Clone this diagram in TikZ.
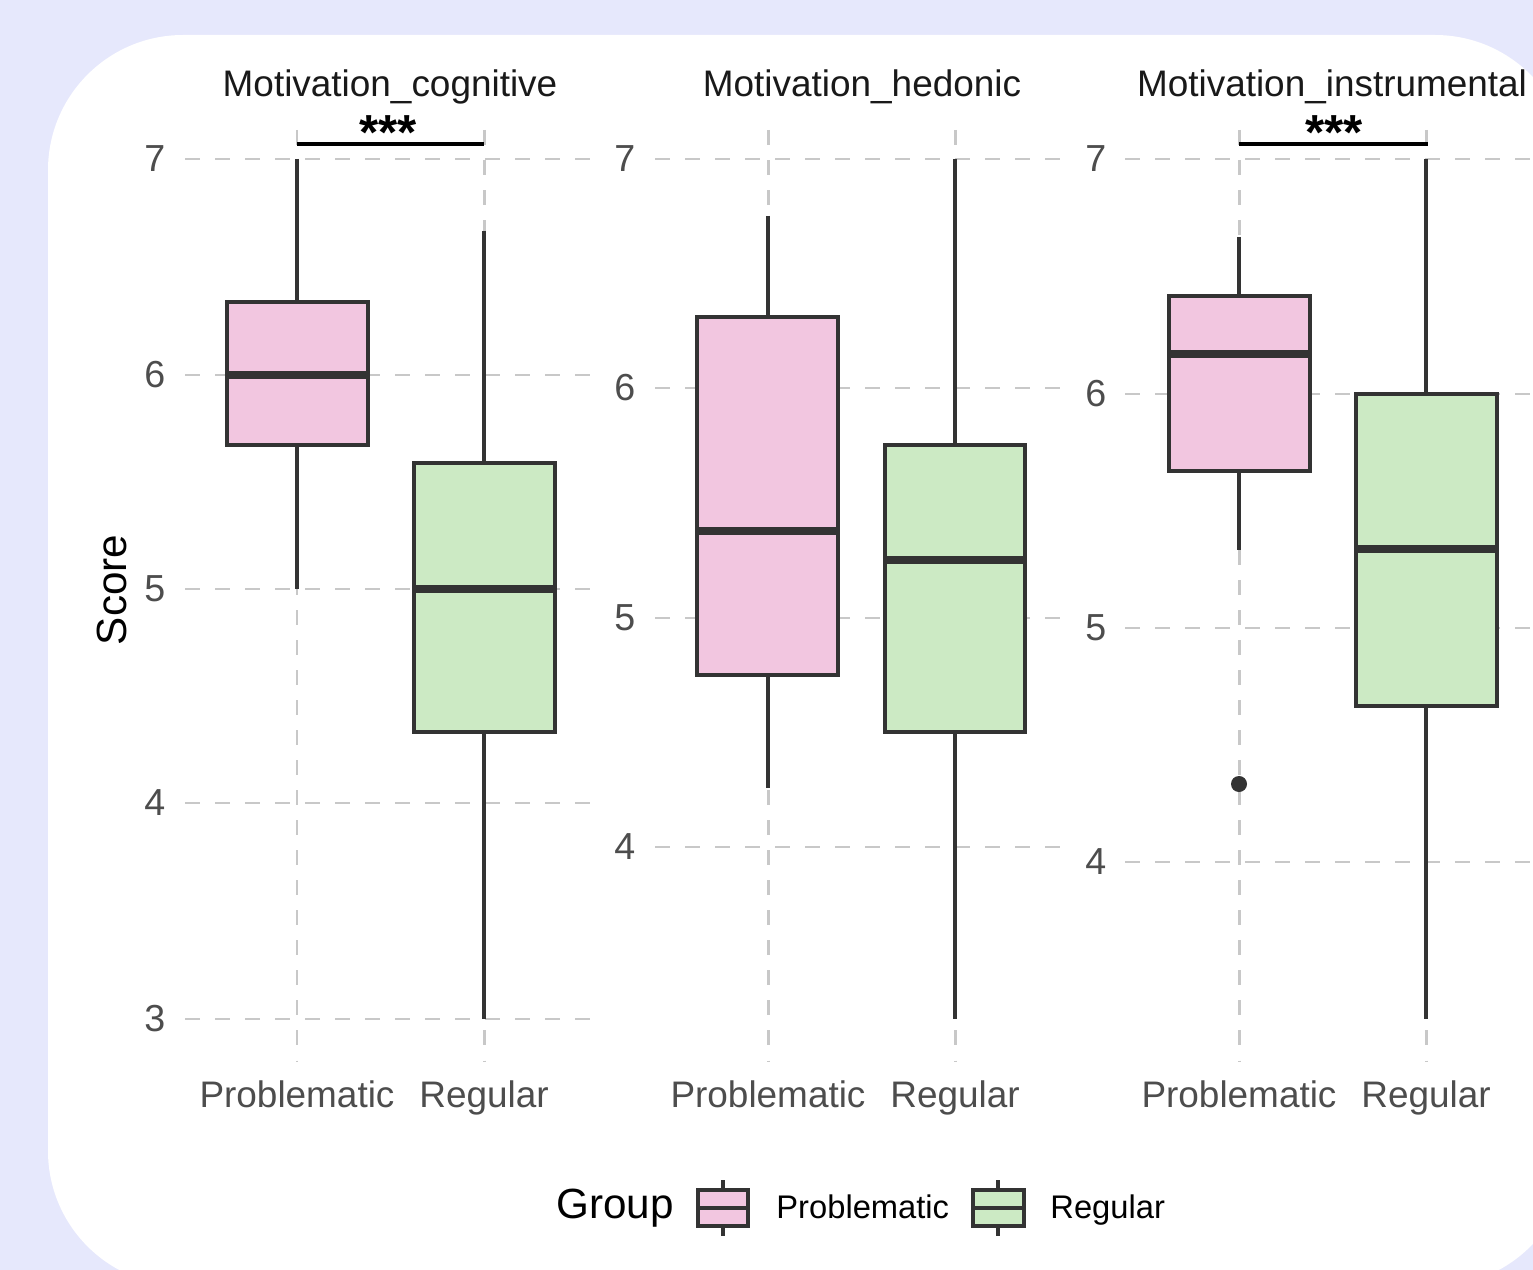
\documentclass[tikz,border=0pt]{standalone}
\usepackage{fontspec}
\setmainfont{Liberation Sans}
\usetikzlibrary{positioning}
\definecolor{bgcol}{HTML}{E6E8FC}
\definecolor{gridgray}{HTML}{C8C8C8}
\definecolor{boxgray}{HTML}{333333}
\definecolor{tickgray}{HTML}{4D4D4D}
\definecolor{pinkfill}{HTML}{F2C6E0}
\definecolor{greenfill}{HTML}{CCEAC4}

\begin{document}
\begin{tikzpicture}[x=0.01cm, y=-0.01cm]
		\tikzset{grd/.style={draw=gridgray, line width=0.85pt, dash pattern=on 0.15cm off 0.15cm}};
		\tikzset{bx/.style={draw=boxgray, line width=0.9pt}};
		\tikzset{med/.style={draw=boxgray, line width=2pt}};
		\tikzset{ttl/.style={text=black!90, font=\fontsize{10.5}{12}\selectfont, anchor=base}};
		\tikzset{tck/.style={text=tickgray, font=\fontsize{10.7}{12}\selectfont, anchor=east, inner sep=0pt}};
		\tikzset{xlab/.style={text=tickgray, font=\fontsize{10.5}{12}\selectfont, anchor=base}};
		\tikzset{star/.style={text=black, font=\bfseries\fontsize{14}{16}\selectfont}};

		\useasboundingbox (0,0) rectangle (1533,1270);
		\fill[bgcol] (0,0) rectangle (1533,1270);
		\fill[white, rounded corners=1.35cm] (48,35) rectangle (1570,1286);

		\foreach \y in {159,375,589,803,1019} \draw[grd] (185,\y) -- (598,\y);
		\foreach \y in {159,388,618,847} \draw[grd] (655,\y) -- (1068,\y);
		\foreach \y in {159,394,628,862} \draw[grd] (1125,\y) -- (1540,\y);
		\foreach \x in {297,484,768,955,1239,1426} \draw[grd] (\x,130) -- (\x,1062);

		\node[ttl] (t1) at (390,97) {Motivation\_cognitive};
		\node[ttl] (t2) at (862,97) {Motivation\_hedonic};
		\node[ttl] (t3) at (1332,97) {Motivation\_instrumental};

		\node[tck] (y17) at (166,159) {7};
		\node[tck] (y16) at (166,375) {6};
		\node[tck] (y15) at (166,589) {5};
		\node[tck] (y14) at (166,803) {4};
		\node[tck] (y13) at (166,1019) {3};
		\node[tck] (y27) at (636,159) {7};
		\node[tck] (y26) at (636,388) {6};
		\node[tck] (y25) at (636,618) {5};
		\node[tck] (y24) at (636,847) {4};
		\node[tck] (y37) at (1107,159) {7};
		\node[tck] (y36) at (1107,394) {6};
		\node[tck] (y35) at (1107,628) {5};
		\node[tck] (y34) at (1107,862) {4};

		\node[xlab] (p1) at (297,1107) {Problematic};
		\node[xlab] (r1) at (484,1107) {Regular};
		\node[xlab] (p2) at (768,1107) {Problematic};
		\node[xlab] (r2) at (955,1107) {Regular};
		\node[xlab] (p3) at (1239,1107) {Problematic};
		\node[xlab] (r3) at (1426,1107) {Regular};

		\node[rotate=90, font=\fontsize{12}{14}\selectfont] (score) at (112,590) {Score};

		\draw[bx] (297,159) -- (297,589);
		\filldraw[bx, fill=pinkfill] (227,302) rectangle (368,445);
		\draw[med] (227,375) -- (368,375);
		\draw[bx] (484,231) -- (484,1019);
		\filldraw[bx, fill=greenfill] (414,463) rectangle (555,732);
		\draw[med] (414,589) -- (555,589);

		\draw[bx] (768,216) -- (768,788);
		\filldraw[bx, fill=pinkfill] (697,317) rectangle (838,675);
		\draw[med] (697,531) -- (838,531);
		\draw[bx] (955,159) -- (955,1019);
		\filldraw[bx, fill=greenfill] (885,445) rectangle (1025,732);
		\draw[med] (885,560) -- (1025,560);

		\draw[bx] (1239,237) -- (1239,550);
		\filldraw[bx, fill=pinkfill] (1169,296) rectangle (1310,471);
		\draw[med] (1169,354) -- (1310,354);
		\fill[boxgray] (1239,784) circle (0.08cm);
		\draw[bx] (1426,159) -- (1426,1019);
		\filldraw[bx, fill=greenfill] (1356,394) rectangle (1497,706);
		\draw[med] (1356,549) -- (1497,549);

		\coordinate (s1a) at (297,144);
		\coordinate (s1b) at (484,144);
		\draw[black, line width=1pt] (s1a) -- (s1b);
		\node[star] (st1) at (388,133) {***};
		\coordinate (s3a) at (1239,144);
		\coordinate (s3b) at (1428,144);
		\draw[black, line width=1pt] (s3a) -- (s3b);
		\node[star] (st3) at (1334,133) {***};

		\node[font=\fontsize{12}{14}\selectfont] (grp) at (615,1208) {Group};
		\draw[bx] (723,1180) -- (723,1236);
		\filldraw[bx, fill=pinkfill] (698,1190) rectangle (748,1226);
		\draw[bx] (698,1208) -- (748,1208);
		\node[font=\fontsize{9.3}{11}\selectfont, anchor=base west] (lp) at (764,1218) {Problematic};
		\draw[bx] (998,1180) -- (998,1236);
		\filldraw[bx, fill=greenfill] (973,1190) rectangle (1024,1226);
		\draw[bx] (973,1208) -- (1024,1208);
		\node[font=\fontsize{9.3}{11}\selectfont, anchor=base west] (lr) at (1038,1218) {Regular};
	\end{tikzpicture}
\end{document}
